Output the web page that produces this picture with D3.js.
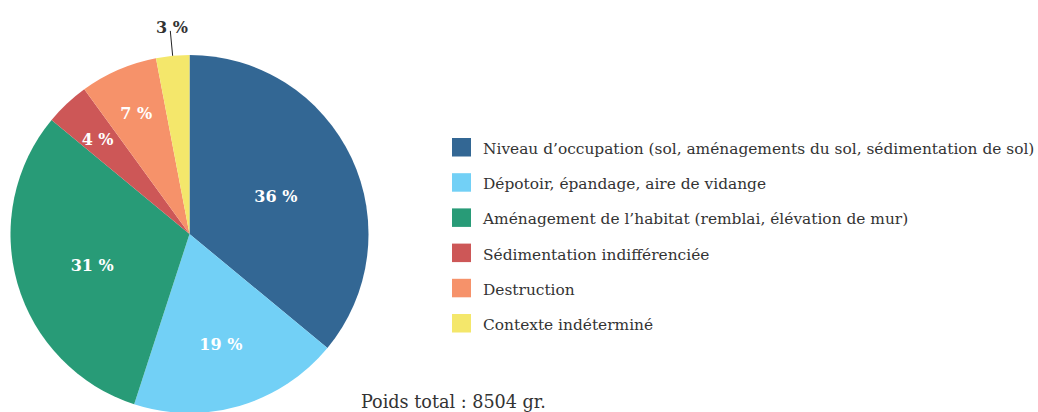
<!DOCTYPE html>
<html>
<head>
<meta charset="utf-8">
<script src="https://cdn.jsdelivr.net/npm/d3@7"></script>
<style>
  body { margin: 0; background: #fff; }
  svg { display: block; }
</style>
</head>
<body>
<div class="js-chart"></div>
<script>
'use strict';

// chart data
const categories = [
    "Niveau d’occupation (sol, aménagements du sol, sédimentation de sol)",
    "Dépotoir, épandage, aire de vidange",
    "Aménagement de l’habitat (remblai, élévation de mur)",
    "Sédimentation indifférenciée",
    "Destruction",
    "Contexte indéterminé"
];
const percents = [36, 19, 31, 4, 7, 3];
const colors = ["#336794", "#72d0f6", "#289b77", "#cd5757", "#f6926a", "#f4e76b"];
const totalLabel = "Poids total : 8504 gr.";

const svgWidth = 1038;
const svgHeight = 412;
const cx = 189.5;
const cy = 234;
const radius = 179;
const fontFamily = "'DejaVu Serif', serif";

let svg = d3.select(".js-chart")
            .append("svg")
            .attr("width", svgWidth)
            .attr("height", svgHeight);

let pie = d3.pie()
            .sort(null)
            .value(d => d);

let arcs = pie(percents);

let arc = d3.arc()
            .innerRadius(0)
            .outerRadius(radius);

let g = svg.append("g")
           .attr("transform", `translate(${cx},${cy})`);

g.selectAll("path")
 .data(arcs)
 .enter()
 .append("path")
 .attr("d", arc)
 .attr("fill", (d, i) => colors[i]);

// labels: big slices at the area centroid, small ones closer to the edge, tiny one outside
function labelRadius(d) {
    const share = d.data;
    const half = (d.endAngle - d.startAngle) / 2;
    if (share < 4) return radius * 1.16;
    if (share < 10) return radius * 0.75;
    return 2 * radius * Math.sin(half) / (3 * half);
}

function polar(angle, r) {
    return [Math.sin(angle) * r, -Math.cos(angle) * r];
}

arcs.forEach(function(d) {
    const mid = (d.startAngle + d.endAngle) / 2;
    const r = labelRadius(d);
    const [x, y] = polar(mid, r);
    const outside = r > radius;

    if (outside) {
        const [x1, y1] = polar(mid, radius);
        const [x2, y2] = polar(mid, radius + 25);
        g.append("line")
         .attr("x1", x1).attr("y1", y1)
         .attr("x2", x2).attr("y2", y2)
         .attr("stroke", "#222")
         .attr("stroke-width", 1);
    }

    g.append("text")
     .text(d.data + " %")
     .attr("x", outside ? x + 2 : x)
     .attr("y", outside ? y + 6 : y + 4)
     .attr("text-anchor", "middle")
     .attr("dominant-baseline", outside ? "auto" : "middle")
     .attr("font-family", fontFamily)
     .attr("font-weight", "bold")
     .attr("font-size", "16px")
     .attr("fill", outside ? "#333" : "#fff");
});

// legend
const legendX = 452;
const legendY = 138;
const rowStep = 35.2;

let legend = svg.append("g")
                .attr("transform", `translate(${legendX},${legendY})`);

let rows = legend.selectAll("g")
                 .data(categories)
                 .enter()
                 .append("g")
                 .attr("transform", (d, i) => `translate(0,${i * rowStep})`);

rows.append("rect")
    .attr("width", 19)
    .attr("height", 18.5)
    .attr("fill", (d, i) => colors[i]);

rows.append("text")
    .text(d => d)
    .attr("x", 31)
    .attr("y", 16)
    .attr("font-family", fontFamily)
    .attr("font-size", "15.4px")
    .attr("fill", "#333");

svg.append("text")
   .text(totalLabel)
   .attr("x", 361)
   .attr("y", 408)
   .attr("font-family", fontFamily)
   .attr("font-size", "17.6px")
   .attr("fill", "#333");
</script>
</body>
</html>
